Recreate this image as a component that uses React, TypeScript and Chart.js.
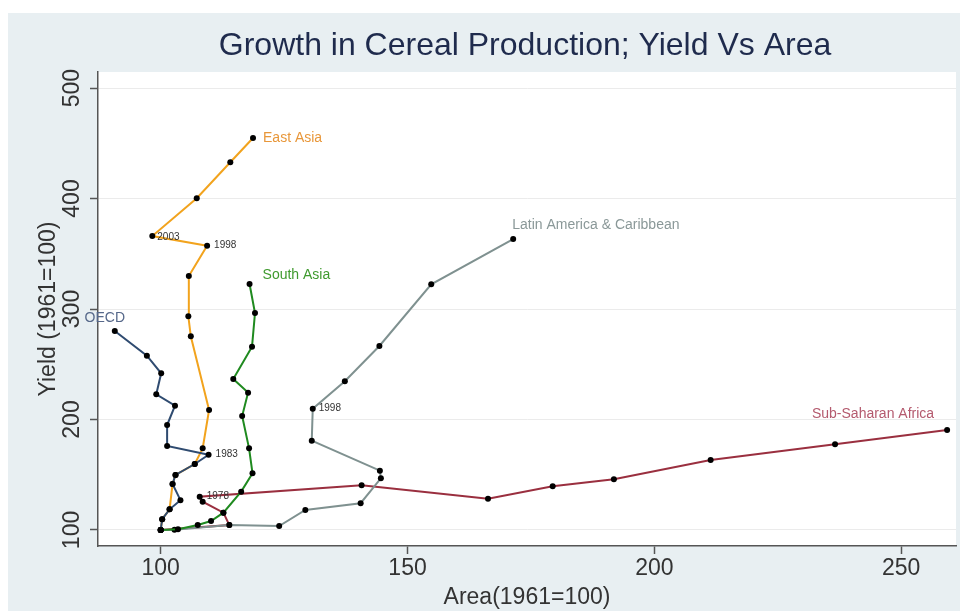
import React, { useEffect, useRef } from "react";
import { Chart, registerables } from "chart.js";

Chart.register(...registerables);

const chartTitle = "Growth in Cereal Production; Yield Vs Area";
const xAxisTitle = "Area(1961=100)";
const yAxisTitle = "Yield (1961=100)";

const seriesNames = ["OECD", "East Asia", "South Asia", "Latin America & Caribbean", "Sub-Saharan Africa"];

const oecdArea = [100, 100.3, 101.8, 104, 102.4, 103, 106.9, 109.7, 101.3, 101.3, 102.9, 99.1, 100.1, 97.2, 90.7];
const oecdYield = [100, 109.7, 118.7, 127, 141.6, 149.8, 159.7, 168.1, 176, 195, 212.5, 222.8, 241.8, 257.8, 280.1];

const eastAsiaArea = [100, 100.3, 101.8, 102.4, 103, 106.9, 108.5, 109.8, 106.1, 105.6, 105.7, 109.4, 98.3, 107.3, 114.1, 118.7];
const eastAsiaYield = [100, 109.7, 118.7, 141.6, 149.8, 159.7, 173.9, 208.6, 275.3, 293.4, 329.9, 357.3, 366, 400.2, 432.8, 454.8];

const southAsiaArea = [100, 103.5, 107.5, 110.2, 112.7, 116.3, 118.6, 117.9, 116.5, 117.7, 114.7, 118.5, 119.1, 118.0];
const southAsiaYield = [100, 100.6, 104.5, 108.1, 115.7, 134.7, 151.3, 173.9, 203.2, 224.3, 236.7, 265.9, 296.4, 322.6];

const latinArea = [100, 102.8, 113.9, 124.0, 129.3, 140.5, 144.6, 144.4, 130.6, 130.8, 137.3, 144.3, 154.8, 171.4];
const latinYield = [100, 100.3, 104.5, 103.6, 118.1, 124.2, 146.8, 153.7, 180.8, 209.8, 234.6, 266.5, 322.3, 363.3];

const ssaArea = [100, 113.9, 112.7, 108.5, 107.9, 140.7, 166.3, 179.4, 191.8, 211.4, 236.6, 259.3];
const ssaYield = [100, 104.5, 115.7, 125.6, 130.1, 140.4, 128.3, 139.5, 145.9, 163.3, 177.6, 190.5];

const xTickValues = [100, 150, 200, 250];
const yTickValues = [100, 200, 300, 400, 500];

const lineColors = ["#2f4b70", "#f2a31d", "#1f8a1f", "#7f9190", "#9a2f3f"];
const labelColors = ["#56688a", "#e8973a", "#3f9a2e", "#8a9898", "#b45a6e"];

// series name labels: dataset index, anchor point index (-1 = last), pixel offset
const seriesLabels = [
  { ds: 0, pt: -1, dx: -10, dy: -13, align: "center" },
  { ds: 1, pt: -1, dx: 10, dy: 0, align: "left" },
  { ds: 2, pt: -1, dx: 13, dy: -9, align: "left" },
  { ds: 3, pt: -1, dx: -1, dy: -14, align: "left" },
  { ds: 4, pt: -1, dx: -13, dy: -16, align: "right" },
];

const yearLabels = [
  { ds: 1, pt: 12, text: "2003", dx: 5, dy: 1 },
  { ds: 1, pt: 11, text: "1998", dx: 7, dy: 0 },
  { ds: 0, pt: 7, text: "1983", dx: 7, dy: 0 },
  { ds: 4, pt: 4, text: "1978", dx: 7, dy: 0 },
  { ds: 3, pt: 9, text: "1998", dx: 6, dy: 0 },
];

const FONT = "'Liberation Sans', Arial, Helvetica, sans-serif";

function toPoints(xs: number[], ys: number[]) {
  return xs.map((x, i) => ({ x, y: ys[i] }));
}

const decorPlugin = {
  id: "decor",
  beforeDraw(chart: any) {
    const { ctx, chartArea, width, height } = chart;
    ctx.save();
    ctx.fillStyle = "#ffffff";
    ctx.fillRect(0, 0, width, height);
    ctx.fillStyle = "#e8eff2";
    ctx.fillRect(8, 13, width - 8, height - 13);
    ctx.fillStyle = "#ffffff";
    ctx.fillRect(chartArea.left, chartArea.top, chartArea.right - chartArea.left, chartArea.bottom - chartArea.top);
    ctx.restore();
  },
  afterDraw(chart: any) {
    const { ctx, chartArea, scales } = chart;
    const xs = scales.x;
    const ys = scales.y;
    ctx.save();
    // chart title
    ctx.fillStyle = "#1f2b4d";
    ctx.font = `32px ${FONT}`;
    ctx.textAlign = "center";
    ctx.textBaseline = "middle";
    ctx.fillText(chartTitle, 525, 46);

    // rotated y tick labels
    ctx.fillStyle = "#333333";
    ctx.font = `23px ${FONT}`;
    yTickValues.forEach((v) => {
      const py = ys.getPixelForValue(v);
      ctx.save();
      ctx.translate(chartArea.left - 25, py);
      ctx.rotate(-Math.PI / 2);
      ctx.textAlign = "center";
      ctx.textBaseline = "middle";
      ctx.fillText(String(v), 0, 0);
      ctx.restore();
    });

    // series labels
    seriesLabels.forEach((l) => {
      const data = chart.data.datasets[l.ds].data;
      const p = data[l.pt < 0 ? data.length + l.pt : l.pt];
      const px = xs.getPixelForValue(p.x) + l.dx;
      const py = ys.getPixelForValue(p.y) + l.dy;
      ctx.fillStyle = labelColors[l.ds];
      ctx.font = `14px ${FONT}`;
      ctx.textAlign = l.align as CanvasTextAlign;
      ctx.textBaseline = "middle";
      ctx.fillText(seriesNames[l.ds], px, py);
    });

    // year labels
    yearLabels.forEach((l) => {
      const p = chart.data.datasets[l.ds].data[l.pt];
      const px = xs.getPixelForValue(p.x) + l.dx;
      const py = ys.getPixelForValue(p.y) + l.dy;
      ctx.fillStyle = "#333333";
      ctx.font = `10px ${FONT}`;
      ctx.textAlign = "left";
      ctx.textBaseline = "middle";
      ctx.fillText(l.text, px, py);
    });
    ctx.restore();
  },
};

export default function App() {
  const ref = useRef<HTMLCanvasElement>(null);

  useEffect(() => {
    const canvas = ref.current;
    if (!canvas) return;
    const seriesData = [
      toPoints(oecdArea, oecdYield),
      toPoints(eastAsiaArea, eastAsiaYield),
      toPoints(southAsiaArea, southAsiaYield),
      toPoints(latinArea, latinYield),
      toPoints(ssaArea, ssaYield),
    ];
    const chart = new Chart(canvas, {
      type: "scatter",
      data: {
        datasets: seriesData.map((d, i) => ({
          label: seriesNames[i],
          data: d,
          showLine: true,
          borderColor: lineColors[i],
          borderWidth: 2,
          pointRadius: 3,
          pointBackgroundColor: "#000000",
          pointBorderColor: "#000000",
          pointBorderWidth: 0,
          tension: 0,
        })),
      },
      options: {
        responsive: false,
        animation: false,
        layout: { padding: { top: 72, right: 0, bottom: 0, left: 0 } },
        plugins: {
          legend: { display: false },
          tooltip: { enabled: false },
          title: { display: false },
        },
        scales: {
          x: {
            type: "linear",
            min: 87.3,
            max: 261.1,
            afterFit: (s: any) => {
              s.height = 65;
            },
            afterBuildTicks: (s: any) => {
              s.ticks = xTickValues.map((v) => ({ value: v }));
            },
            ticks: {
              font: { family: FONT, size: 23 },
              color: "#333333",
              padding: 1,
              maxRotation: 0,
            },
            grid: {
              drawOnChartArea: false,
              drawTicks: true,
              tickLength: 8,
              tickColor: "#555555",
              tickWidth: 1.5,
            },
            border: { color: "#555555", width: 1.5 },
            title: {
              display: true,
              text: xAxisTitle,
              font: { family: FONT, size: 23 },
              color: "#333333",
              padding: 0,
            },
          },
          y: {
            type: "linear",
            min: 85.5,
            max: 514.5,
            afterFit: (s: any) => {
              s.width = 98;
            },
            afterBuildTicks: (s: any) => {
              s.ticks = yTickValues.map((v) => ({ value: v }));
            },
            ticks: { display: false },
            grid: {
              color: "#ebebeb",
              lineWidth: 1,
              drawTicks: true,
              tickLength: 8,
              tickColor: "#555555",
              tickWidth: 1.5,
            },
            border: { color: "#555555", width: 1.5 },
            title: {
              display: true,
              text: yAxisTitle,
              font: { family: FONT, size: 23 },
              color: "#333333",
              padding: { top: 35, bottom: 0 },
            },
          },
        },
      },
      plugins: [decorPlugin],
    } as any);
    return () => chart.destroy();
  }, []);

  return (
    <div style={{ position: "fixed", left: 0, top: 0, width: 960, height: 611 }}>
      <canvas ref={ref} width={960} height={611} style={{ display: "block", width: 960, height: 611 }} />
    </div>
  );
}
